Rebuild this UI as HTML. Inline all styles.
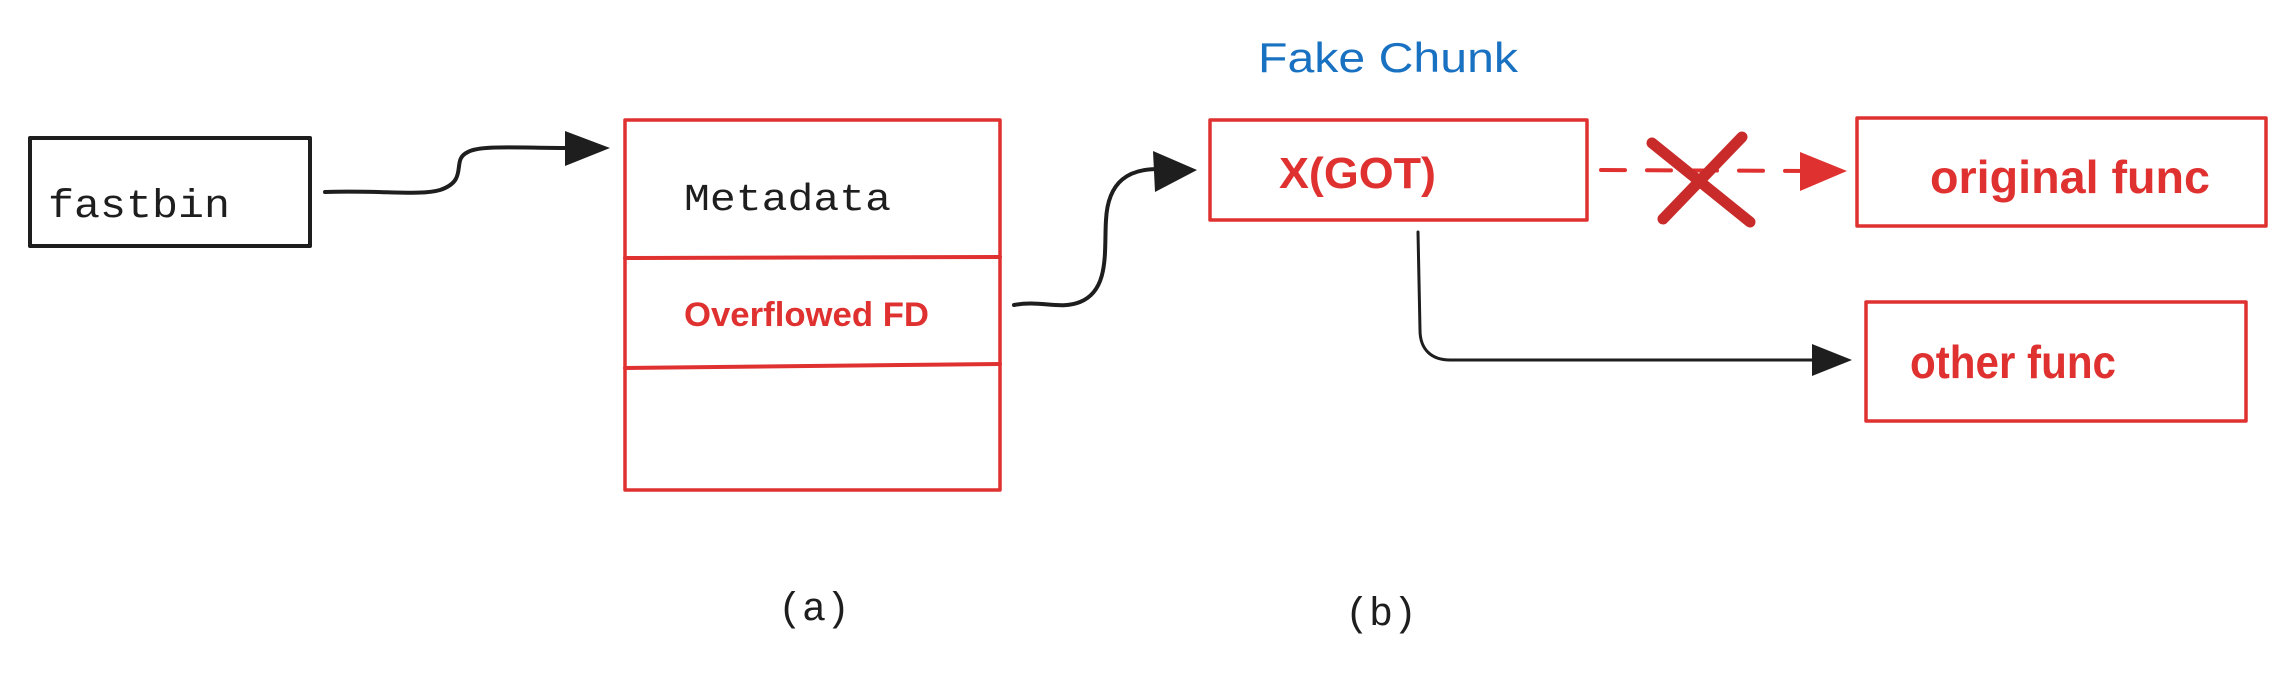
<!DOCTYPE html>
<html><head><meta charset="utf-8"><style>
html,body{margin:0;padding:0;background:#fff;}
svg{display:block}
.mono{font-family:"Liberation Mono","DejaVu Sans Mono",monospace;}
.bold{font-family:"Liberation Sans Narrow","Liberation Sans",sans-serif;font-weight:bold;}
</style></head><body>
<svg width="2295" height="673" viewBox="0 0 2295 673" xmlns="http://www.w3.org/2000/svg">
<g fill="none" stroke-linecap="round" stroke-linejoin="round">
<rect x="30" y="138" width="280" height="108" stroke="#1e1e1e" stroke-width="4"/>
<rect x="625" y="120" width="375" height="370" stroke="#e03131" stroke-width="3.5"/>
<line x1="625" y1="258" x2="1000" y2="257" stroke="#e03131" stroke-width="4"/>
<line x1="625" y1="368" x2="1000" y2="364" stroke="#e03131" stroke-width="4"/>
<rect x="1210" y="120" width="377" height="100" stroke="#e03131" stroke-width="3.5"/>
<rect x="1857" y="118" width="409" height="108" stroke="#e03131" stroke-width="3.5"/>
<rect x="1866" y="302" width="380" height="119" stroke="#e03131" stroke-width="3.5"/>
<path d="M325 192 C380 190 420 196 440 190 C470 180 450 160 468 152 C480 145 520 148 568 148" stroke="#1e1e1e" stroke-width="4"/>
<path d="M1014 305 C1040 300 1060 310 1080 302 C1110 290 1104 250 1106 220 C1108 180 1130 169 1158 169" stroke="#1e1e1e" stroke-width="4"/>
<path d="M1418 232 L1420 330 C1420 350 1432 360 1450 360 L1820 360" stroke="#1e1e1e" stroke-width="3"/>
<path d="M1601 170 L1810 171" stroke="#e03131" stroke-width="4" stroke-dasharray="24 22"/>
<line x1="1652" y1="143" x2="1750" y2="222" stroke="#c92a2a" stroke-width="11"/>
<line x1="1742" y1="137" x2="1663" y2="219" stroke="#c92a2a" stroke-width="11"/>
</g>
<polygon points="565,131 610,148 565,166" fill="#1e1e1e"/>
<polygon points="1153,151 1197,170 1155,192" fill="#1e1e1e"/>
<polygon points="1812,344 1852,360 1812,376" fill="#1e1e1e"/>
<polygon points="1800,152 1847,171 1800,191" fill="#e03131"/>
<g>
<text x="48" y="217" class="mono" font-size="40" fill="#1e1e1e" textLength="182" lengthAdjust="spacingAndGlyphs">fastbin</text>
<text x="684" y="210" class="mono" font-size="38" fill="#1e1e1e" textLength="207" lengthAdjust="spacingAndGlyphs">Metadata</text>
<text x="684" y="326" class="bold" font-size="34" fill="#e03131" textLength="245" lengthAdjust="spacingAndGlyphs">Overflowed FD</text>
<text x="1258" y="72" font-family="Liberation Sans,sans-serif" font-size="42" fill="#1971c2" textLength="260" lengthAdjust="spacingAndGlyphs">Fake Chunk</text>
<text x="1279" y="188" class="bold" font-size="44" fill="#e03131" textLength="157" lengthAdjust="spacingAndGlyphs">X(GOT)</text>
<text x="1930" y="193" class="bold" font-size="46" fill="#e03131" textLength="280" lengthAdjust="spacingAndGlyphs">original func</text>
<text x="1910" y="378" class="bold" font-size="46" fill="#e03131" textLength="206" lengthAdjust="spacingAndGlyphs">other func</text>
<text x="778" y="620" class="mono" font-size="40" fill="#1e1e1e">(a)</text>
<text x="1345" y="625" class="mono" font-size="40" fill="#1e1e1e">(b)</text>
</g>
</svg>
</body></html>
